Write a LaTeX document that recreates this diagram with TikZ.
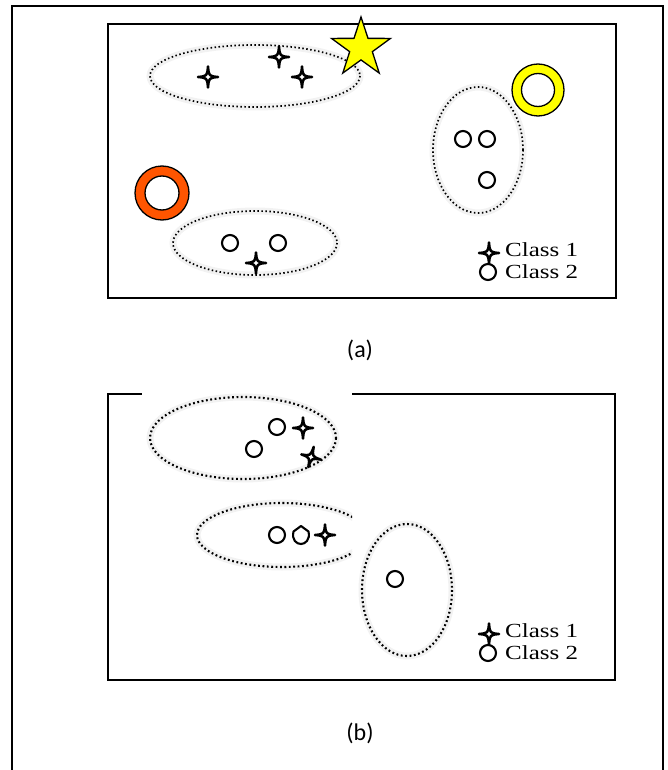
\documentclass[tikz,border=0pt]{standalone}
\usepackage{fontspec}
\setmainfont{Liberation Serif}
\newfontfamily\legendfont[FakeStretch=1.25]{Liberation Serif}
\newfontfamily\capfont{Carlito}
\usetikzlibrary{shapes.geometric}
\definecolor{ringorange}{RGB}{255,85,0}
\definecolor{ringyellow}{RGB}{255,255,0}
\tikzset{
  frameline/.style={line width=1.5pt, line cap=rect},
  boxline/.style={line width=2.2pt, line cap=rect},
  glow/.style={draw=black!5, line width=7pt},
  dotA/.style={draw=black, line width=1.7pt, dash pattern=on 1.5pt off 2.5pt},
  dotB/.style={draw=black, line width=2.1pt, dash pattern=on 1.8pt off 2.6pt},
  mark2/.style={draw=black, line width=2.1pt, fill=white},
  sparkle/.pic={\draw[black, line width=2.5pt, fill=white, line join=round]
     (0,-10.5) .. controls (0.9,-0.9) .. (10,0) .. controls (0.9,0.9) .. (0,10.5)
     .. controls (-0.9,0.9) .. (-10,0) .. controls (-0.9,-0.9) .. cycle;},
  classlabel/.style={anchor=base west, inner sep=0pt,
     font=\legendfont\fontsize{20}{20}\selectfont},
  caption/.style={font=\capfont\fontsize{24}{24}\selectfont, inner sep=0pt},
  ring/.style={draw=black, line width=1.3pt, even odd rule}
}
\begin{document}
\begin{tikzpicture}[x=1pt,y=-1pt]
\useasboundingbox (0,0) rectangle (667,770);
% outer frame
\draw[frameline] (12,780) -- (12,6) -- (663,6) -- (663,780);

% ---------- panel (a) ----------
\draw[boxline] (108,24) rectangle (616,298);
% ellipses
\draw[glow] (255,76) ellipse [x radius=105, y radius=31];
\draw[glow] (478,150) ellipse [x radius=45, y radius=63];
\draw[glow] (255,243) ellipse [x radius=82, y radius=32];
\draw[dotA] (255,76) ellipse [x radius=105, y radius=31];
\draw[dotA] (478,150) ellipse [x radius=45, y radius=63];
\draw[dotA] (255,243) ellipse [x radius=82, y radius=32];
% class 1 marks
\pic (sa1) at (208,77) {sparkle};
\pic (sa2) at (279,57) {sparkle};
\pic (sa3) at (302,77) {sparkle};
\pic (sa4) at (256,263) {sparkle};
% class 2 marks
\node (ca1) [mark2, circle, inner sep=0pt, minimum size=16pt] at (463,139) {};
\node (ca2) [mark2, circle, inner sep=0pt, minimum size=16pt] at (487,139) {};
\node (ca3) [mark2, circle, inner sep=0pt, minimum size=16pt] at (487,180) {};
\node (ca4) [mark2, circle, inner sep=0pt, minimum size=16pt] at (230,243) {};
\node (ca5) [mark2, circle, inner sep=0pt, minimum size=16pt] at (278,243) {};
% star and rings
\node (star) [star, star points=5, star point ratio=2.6, draw=black, line width=1.3pt,
   fill=ringyellow, minimum size=62pt, inner sep=0pt] at (361,48) {};
\draw[ring, fill=ringyellow] (538,90) circle (26) (538,90) circle (16.5);
\draw[ring, fill=ringorange] (162,193) circle (27) (162,193) circle (17);
% legend
\node (lca) [mark2, circle, inner sep=0pt, minimum size=16pt] at (488,272) {};
\pic (lsa) at (489,253) {sparkle};
\node (l1a) [classlabel] at (505,256) {Class 1};
\node (l2a) [classlabel] at (505,278) {Class 2};
\node (capa) [caption] at (360,350) {(a)};

% ---------- panel (b) ----------
\draw[boxline] (141,394) -- (108,394) -- (108,680) -- (615,680) -- (615,394) -- (353,394);
\draw[glow] (243,438) ellipse [x radius=93, y radius=41];
\begin{scope}
  \clip (150,480) rectangle (352,590);
  \draw[glow] (282,535) ellipse [x radius=85, y radius=32];
  \draw[dotB] (282,535) ellipse [x radius=85, y radius=32];
\end{scope}
\draw[glow] (407,590) ellipse [x radius=45, y radius=66];
\draw[dotB] (243,438) ellipse [x radius=93, y radius=41];
\draw[dotB] (407,590) ellipse [x radius=45, y radius=66];
% marks
\node (cb1) [mark2, circle, inner sep=0pt, minimum size=16pt] at (277,427) {};
\node (cb2) [mark2, circle, inner sep=0pt, minimum size=16pt] at (254,449) {};
\pic (sb1) at (303,428) {sparkle};
\pic[rotate=-15] (sb2) at (311,457) {sparkle};
\node (cb3) [mark2, circle, inner sep=0pt, minimum size=16pt] at (277,535) {};
\draw[mark2, line join=round] (301,526) -- (308.5,531.5)
   .. controls (310.5,540) and (305,544) .. (301,544)
   .. controls (296.5,544) and (291.5,540) .. (293.5,531.5) -- cycle;
\pic (sb3) at (325,535) {sparkle};
\node (cb4) [mark2, circle, inner sep=0pt, minimum size=16pt] at (395,579) {};
% legend
\node (lcb) [mark2, circle, inner sep=0pt, minimum size=16pt] at (488,653) {};
\pic (lsb) at (489,634) {sparkle};
\node (l1b) [classlabel] at (505,637) {Class 1};
\node (l2b) [classlabel] at (505,659) {Class 2};
\node (capb) [caption] at (360,733) {(b)};
\end{tikzpicture}
\end{document}
